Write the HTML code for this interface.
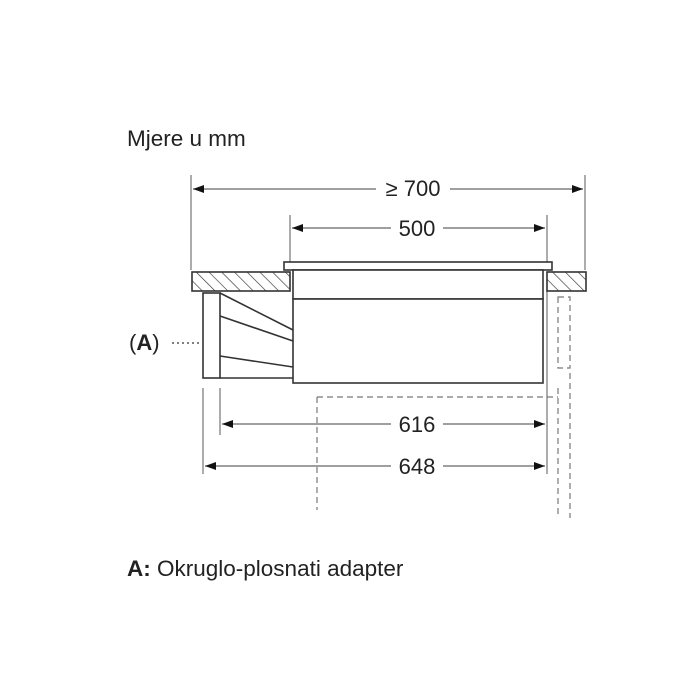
<!DOCTYPE html>
<html><head><style>body{margin:0;background:#fff}svg{display:block}</style></head>
<body>
<svg width="700" height="700" xmlns="http://www.w3.org/2000/svg" font-family="Liberation Sans, Arial, sans-serif">
<defs>
<pattern id="h" patternUnits="userSpaceOnUse" width="9" height="9" patternTransform="rotate(-45)">
<line x1="0" y1="0" x2="0" y2="9" stroke="#333" stroke-width="1.3"/>
</pattern>
<marker id="a" markerWidth="11" markerHeight="8" refX="11" refY="4" orient="auto-start-reverse" markerUnits="userSpaceOnUse">
<path d="M0,0 L11,4 L0,8Z" fill="#111"/></marker>
</defs>
<text x="127" y="146" font-size="22.5" fill="#222">Mjere u mm</text>
<text x="127" y="576" font-size="22.5" fill="#222"><tspan font-weight="bold">A:</tspan> Okruglo-plosnati adapter</text>
<text x="129" y="350" font-size="22" fill="#222">(<tspan font-weight="bold">A</tspan>)</text>
<line x1="172" y1="343" x2="202" y2="343" stroke="#333" stroke-width="1.2" stroke-dasharray="2,3"/>
<g stroke="#888" stroke-width="1.4">
<line x1="191" y1="175" x2="191" y2="270"/><line x1="585" y1="175" x2="585" y2="270"/>
<line x1="290" y1="215" x2="290" y2="262"/><line x1="547" y1="215" x2="547" y2="262"/>
<line x1="547" y1="291" x2="547" y2="474"/>
<line x1="220" y1="388" x2="220" y2="435"/><line x1="203" y1="388" x2="203" y2="474"/>
</g>
<g stroke="#666" stroke-width="1.3" fill="none">
<line x1="193" y1="189" x2="376" y2="189" marker-start="url(#a)"/><line x1="450" y1="189" x2="583" y2="189" marker-end="url(#a)"/>
<line x1="292" y1="228" x2="391" y2="228" marker-start="url(#a)"/><line x1="443" y1="228" x2="545" y2="228" marker-end="url(#a)"/>
<line x1="296" y1="344" x2="391" y2="344" marker-start="url(#a)"/><line x1="443" y1="344" x2="541" y2="344" marker-end="url(#a)"/>
<line x1="222" y1="424" x2="391" y2="424" marker-start="url(#a)"/><line x1="443" y1="424" x2="545" y2="424" marker-end="url(#a)"/>
<line x1="205" y1="466" x2="391" y2="466" marker-start="url(#a)"/><line x1="443" y1="466" x2="545" y2="466" marker-end="url(#a)"/>
</g>
<g font-size="22" fill="#222" text-anchor="middle">
<text x="413" y="196">≥ 700</text><text x="417" y="236">500</text><text x="417" y="352">470</text>
<text x="417" y="432">616</text><text x="417" y="474">648</text>
</g>
<g stroke="#333" stroke-width="1.6">
<rect x="192" y="272" width="98" height="19" fill="url(#h)"/>
<rect x="547" y="272" width="39" height="19" fill="url(#h)"/>
<rect x="284" y="262" width="268" height="8" fill="#fff"/>
<rect x="293" y="270" width="250" height="29" fill="#fff"/>
<rect x="293" y="299" width="250" height="84" fill="#fff"/>
<rect x="203" y="293" width="17" height="85" fill="#fff"/>
<line x1="220" y1="293" x2="293" y2="330"/><line x1="220" y1="316" x2="293" y2="341"/>
<line x1="220" y1="356" x2="293" y2="367"/><line x1="220" y1="378" x2="293" y2="378"/>
</g>
<g stroke="#777" stroke-width="1.2" fill="none" stroke-dasharray="6,4">
<path d="M558,297 H570 V368 H558 Z"/>
<line x1="570" y1="373" x2="570" y2="518"/>
<line x1="558" y1="388" x2="558" y2="518"/>
<line x1="317" y1="397" x2="558" y2="397"/>
<line x1="317" y1="397" x2="317" y2="510"/>
</g>
</svg>
</body></html>
